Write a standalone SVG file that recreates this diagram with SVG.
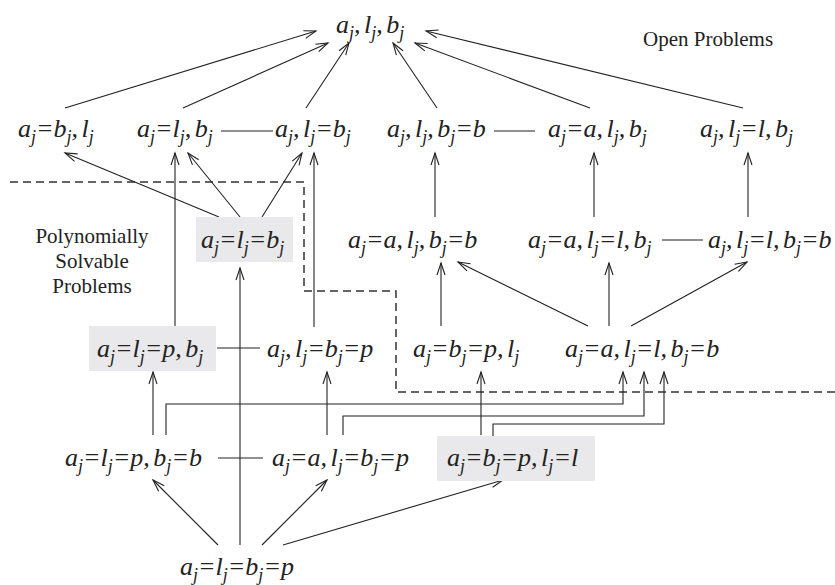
<svg xmlns="http://www.w3.org/2000/svg" width="835" height="585" viewBox="0 0 835 585">
<defs>
<style>
.m{font-family:"Liberation Serif","Times New Roman",serif;font-style:italic;font-size:26px;fill:#222;word-spacing:-3px}
.s{font-size:18px}
.lab{font-family:"Liberation Serif","Times New Roman",serif;font-size:21px;fill:#222}
.box{fill:#e9e9eb}
.c{fill:none;stroke:#222;stroke-width:1.1}
.d{fill:none;stroke:#333;stroke-width:1.5;stroke-dasharray:8 5}
</style>
<marker id="ah" markerUnits="userSpaceOnUse" markerWidth="14" markerHeight="10" refX="12" refY="4" orient="auto" overflow="visible">
<path d="M0,0 L12,4 L0,8" fill="none" stroke="#222" stroke-width="1.1"/>
</marker>
</defs>
<rect width="835" height="585" fill="#fff"/>

<g id="labels">
<text class="lab" x="643" y="46">Open Problems</text>
<text class="lab" x="92" y="243" text-anchor="middle">Polynomially</text>
<text class="lab" x="92" y="268" text-anchor="middle">Solvable</text>
<text class="lab" x="92" y="293" text-anchor="middle">Problems</text>
</g>

<path class="d" d="M10,182 H304 V291 H396 V392 H835"/>

<g id="connectors">
<path class="c" marker-end="url(#ah)" d="M65,108 L316,31"/>
<path class="c" marker-end="url(#ah)" d="M183,108 L328,43"/>
<path class="c" marker-end="url(#ah)" d="M306,108 L349,43"/>
<path class="c" marker-end="url(#ah)" d="M437,108 L393,43"/>
<path class="c" marker-end="url(#ah)" d="M590,108 L415,43"/>
<path class="c" marker-end="url(#ah)" d="M743,108 L426,31"/>
<path class="c" marker-end="url(#ah)" d="M219,217 L65,153"/>
<path class="c" marker-end="url(#ah)" d="M240,217 L188,153"/>
<path class="c" marker-end="url(#ah)" d="M262,217 L302,153"/>
<path class="c" marker-end="url(#ah)" d="M175,326 L175,153"/>
<path class="c" marker-end="url(#ah)" d="M314,327 L314,153"/>
<path class="c" marker-end="url(#ah)" d="M240,545 L240,268"/>
<path class="c" marker-end="url(#ah)" d="M435,217 L435,153"/>
<path class="c" marker-end="url(#ah)" d="M594,217 L594,153"/>
<path class="c" marker-end="url(#ah)" d="M748,217 L748,153"/>
<path class="c" marker-end="url(#ah)" d="M441,326 L441,263"/>
<path class="c" marker-end="url(#ah)" d="M588,326 L458,262"/>
<path class="c" marker-end="url(#ah)" d="M609,326 L609,263"/>
<path class="c" marker-end="url(#ah)" d="M631,326 L747,262"/>
<path class="c" marker-end="url(#ah)" d="M153,435 L153,372"/>
<path class="c" marker-end="url(#ah)" d="M327,435 L327,372"/>
<path class="c" marker-end="url(#ah)" d="M481,435 L481,372"/>
<path class="c" marker-end="url(#ah)" d="M166,435 V404 H623 V372"/>
<path class="c" marker-end="url(#ah)" d="M343,435 V416 H644 V372"/>
<path class="c" marker-end="url(#ah)" d="M493,436 V424 H664 V372"/>
<path class="c" marker-end="url(#ah)" d="M218,545 L153,480"/>
<path class="c" marker-end="url(#ah)" d="M262,545 L327,480"/>
<path class="c" marker-end="url(#ah)" d="M283,545 L503,480"/>
<path class="c" d="M221,131 H273"/>
<path class="c" d="M494,131 H535"/>
<path class="c" d="M662,240 H703"/>
<path class="c" d="M217,348 H260"/>
<path class="c" d="M218,458 H263"/>
</g>

<g id="n-top"><text class="m" x="336" y="33">a<tspan class="s" dy="6">j</tspan><tspan dy="-6">, l</tspan><tspan class="s" dy="6">j</tspan><tspan dy="-6">, b</tspan><tspan class="s" dy="6">j</tspan></text></g>

<g id="n-r2a"><text class="m" x="18" y="137">a<tspan class="s" dy="6">j</tspan><tspan dy="-6">=b</tspan><tspan class="s" dy="6">j</tspan><tspan dy="-6">, l</tspan><tspan class="s" dy="6">j</tspan></text></g>
<g id="n-r2b"><text class="m" x="137" y="137">a<tspan class="s" dy="6">j</tspan><tspan dy="-6">=l</tspan><tspan class="s" dy="6">j</tspan><tspan dy="-6">, b</tspan><tspan class="s" dy="6">j</tspan></text></g>
<g id="n-r2c"><text class="m" x="275" y="137">a<tspan class="s" dy="6">j</tspan><tspan dy="-6">, l</tspan><tspan class="s" dy="6">j</tspan><tspan dy="-6">=b</tspan><tspan class="s" dy="6">j</tspan></text></g>
<g id="n-r2d"><text class="m" x="387" y="137">a<tspan class="s" dy="6">j</tspan><tspan dy="-6">, l</tspan><tspan class="s" dy="6">j</tspan><tspan dy="-6">, b</tspan><tspan class="s" dy="6">j</tspan><tspan dy="-6">=b</tspan></text></g>
<g id="n-r2e"><text class="m" x="548" y="137">a<tspan class="s" dy="6">j</tspan><tspan dy="-6">=a, l</tspan><tspan class="s" dy="6">j</tspan><tspan dy="-6">, b</tspan><tspan class="s" dy="6">j</tspan></text></g>
<g id="n-r2f"><text class="m" x="700" y="137">a<tspan class="s" dy="6">j</tspan><tspan dy="-6">, l</tspan><tspan class="s" dy="6">j</tspan><tspan dy="-6">=l, b</tspan><tspan class="s" dy="6">j</tspan></text></g>

<g id="n-r3a"><rect class="box" x="196" y="217" width="97" height="45"/><text class="m" x="201" y="248">a<tspan class="s" dy="6">j</tspan><tspan dy="-6">=l</tspan><tspan class="s" dy="6">j</tspan><tspan dy="-6">=b</tspan><tspan class="s" dy="6">j</tspan></text></g>
<g id="n-r3b"><text class="m" x="348" y="248">a<tspan class="s" dy="6">j</tspan><tspan dy="-6">=a, l</tspan><tspan class="s" dy="6">j</tspan><tspan dy="-6">, b</tspan><tspan class="s" dy="6">j</tspan><tspan dy="-6">=b</tspan></text></g>
<g id="n-r3c"><text class="m" x="528" y="248">a<tspan class="s" dy="6">j</tspan><tspan dy="-6">=a, l</tspan><tspan class="s" dy="6">j</tspan><tspan dy="-6">=l, b</tspan><tspan class="s" dy="6">j</tspan></text></g>
<g id="n-r3d"><text class="m" x="708" y="248">a<tspan class="s" dy="6">j</tspan><tspan dy="-6">, l</tspan><tspan class="s" dy="6">j</tspan><tspan dy="-6">=l, b</tspan><tspan class="s" dy="6">j</tspan><tspan dy="-6">=b</tspan></text></g>

<g id="n-r4a"><rect class="box" x="89" y="326" width="127" height="45"/><text class="m" x="97" y="357">a<tspan class="s" dy="6">j</tspan><tspan dy="-6">=l</tspan><tspan class="s" dy="6">j</tspan><tspan dy="-6">=p, b</tspan><tspan class="s" dy="6">j</tspan></text></g>
<g id="n-r4b"><text class="m" x="267" y="357">a<tspan class="s" dy="6">j</tspan><tspan dy="-6">, l</tspan><tspan class="s" dy="6">j</tspan><tspan dy="-6">=b</tspan><tspan class="s" dy="6">j</tspan><tspan dy="-6">=p</tspan></text></g>
<g id="n-r4c"><text class="m" x="413" y="357">a<tspan class="s" dy="6">j</tspan><tspan dy="-6">=b</tspan><tspan class="s" dy="6">j</tspan><tspan dy="-6">=p, l</tspan><tspan class="s" dy="6">j</tspan></text></g>
<g id="n-r4d"><text class="m" x="565" y="357">a<tspan class="s" dy="6">j</tspan><tspan dy="-6">=a, l</tspan><tspan class="s" dy="6">j</tspan><tspan dy="-6">=l, b</tspan><tspan class="s" dy="6">j</tspan><tspan dy="-6">=b</tspan></text></g>

<g id="n-r5a"><text class="m" x="65" y="466">a<tspan class="s" dy="6">j</tspan><tspan dy="-6">=l</tspan><tspan class="s" dy="6">j</tspan><tspan dy="-6">=p, b</tspan><tspan class="s" dy="6">j</tspan><tspan dy="-6">=b</tspan></text></g>
<g id="n-r5b"><text class="m" x="272" y="466">a<tspan class="s" dy="6">j</tspan><tspan dy="-6">=a, l</tspan><tspan class="s" dy="6">j</tspan><tspan dy="-6">=b</tspan><tspan class="s" dy="6">j</tspan><tspan dy="-6">=p</tspan></text></g>
<g id="n-r5c"><rect class="box" x="437" y="436" width="158" height="45"/><text class="m" x="447" y="466">a<tspan class="s" dy="6">j</tspan><tspan dy="-6">=b</tspan><tspan class="s" dy="6">j</tspan><tspan dy="-6">=p, l</tspan><tspan class="s" dy="6">j</tspan><tspan dy="-6">=l</tspan></text></g>

<g id="n-r6"><text class="m" x="180" y="575">a<tspan class="s" dy="6">j</tspan><tspan dy="-6">=l</tspan><tspan class="s" dy="6">j</tspan><tspan dy="-6">=b</tspan><tspan class="s" dy="6">j</tspan><tspan dy="-6">=p</tspan></text></g>
</svg>
